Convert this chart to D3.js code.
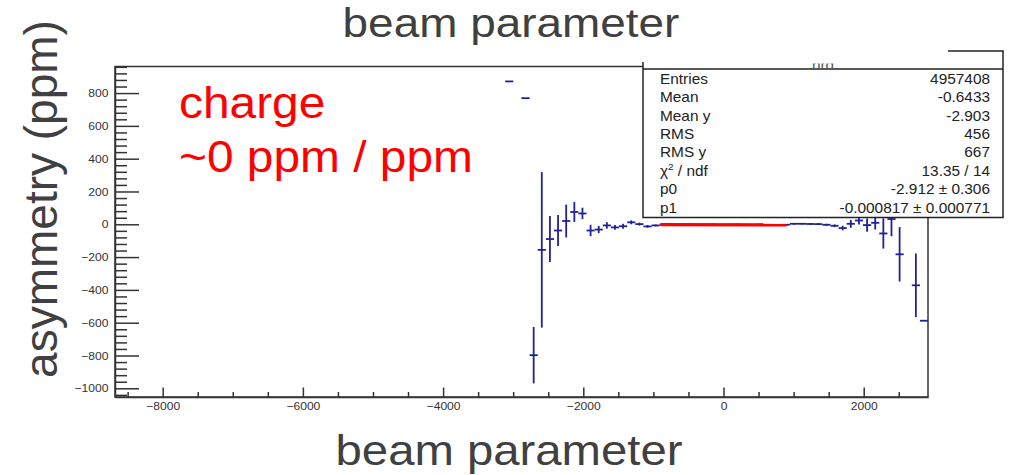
<!DOCTYPE html>
<html>
<head>
<meta charset="utf-8">
<script src="https://cdn.jsdelivr.net/npm/d3@7"></script>
<style>
  body { margin: 0; background: #fff; }
  svg { display: block; font-family: "Liberation Sans", Arial, sans-serif; }
</style>
</head>
<body>
<svg id="chart" width="1010" height="475"></svg>
<script>
// profile bins (bin centre, mean asymmetry, error)
const binX = [-3056, -2824, -2708, -2592, -2476, -2360, -2244, -2128, -2012, -1896, -1780, -1664,
  -1548, -1432, -1316, -1200, -1084, -968, -852, -736, -620, -504, -388, -272, -156, -40, 76, 192,
  308, 424, 540, 656, 772, 888, 1004, 1120, 1236, 1352, 1468, 1584, 1700, 1816, 1932, 2048, 2164,
  2280, 2396, 2512, 2744, 2860];
const binY = [871, 769, -798, -156, -90, -38, 20, 75, 66, -38, -32, -7,
  -19, -12, 12, 1, -13, -7, -2, -4, -3, -1, -5, -3, -2, -4, -3, -2,
  -3, -4, -2, -3, -5, -3, 3, 3, 2, 1, -3, -9, -23, 3, 23, -5, 9,
  -56, 32, -183, -372, -588];
const binErr = [0, 0, 172, 474, 140, 95, 100, 61, 35, 35, 22, 20,
  15, 15, 12, 9, 8, 6, 5, 5, 5, 5, 5, 5, 5, 5, 5, 5,
  5, 5, 5, 5, 5, 5, 5, 5, 5, 6, 6, 8, 14, 24, 25, 41, 41,
  92, 105, 166, 194, 0];
const binWidth = 116;

// linear fit
const fitRange = [-900, 900];
const p0 = -2.912, p1 = -0.000817;

const xMajor = [-8000, -6000, -4000, -2000, 0, 2000];
const xMinor = [-8500, -7500, -7000, -6500, -5500, -5000, -4500, -3500, -3000, -2500,
  -1500, -1000, -500, 500, 1000, 1500, 2500];
const yMajor = [-1000, -800, -600, -400, -200, 0, 200, 400, 600, 800];
const yMinor = [-1040, -960, -920, -880, -840, -760, -720, -680, -640, -560, -520, -480, -440,
  -360, -320, -280, -240, -160, -120, -80, -40, 40, 80, 120, 160, 240, 280, 320, 360,
  440, 480, 520, 560, 640, 680, 720, 760, 840, 880, 920, 960];

const statLabels = ["Entries", "Mean", "Mean y", "RMS", "RMS y", "χ2 / ndf", "p0", "p1"];
const statValues = ["4957408", "-0.6433", "-2.903", "456", "667", "13.35 / 14",
  "-2.912 ± 0.306", "-0.000817 ± 0.000771"];

const svg = d3.select("#chart");
const frame = { left: 115, right: 928, top: 66.5, bottom: 397 };
const sx = 1.1; // picture is a little wider than tall

const x = d3.scaleLinear().domain([-8680, 2917]).range([frame.left, frame.right]);
const y = d3.scaleLinear().domain([-1053, 962]).range([frame.bottom, frame.top]);

const axisColor = "#333";

// frame
svg.append("rect")
  .attr("x", frame.left).attr("y", frame.top)
  .attr("width", frame.right - frame.left).attr("height", frame.bottom - frame.top)
  .attr("fill", "none").attr("stroke", axisColor).attr("stroke-width", 1.5);

// x axis
const gx = svg.append("g").attr("transform", `translate(0,${frame.bottom})`)
  .call(d3.axisBottom(x).tickValues(xMajor).tickSizeInner(-9.5).tickSizeOuter(0).tickPadding(5)
    .tickFormat(d3.format("d")));
svg.append("g").attr("transform", `translate(0,${frame.bottom})`)
  .call(d3.axisBottom(x).tickValues(xMinor).tickSize(-5).tickFormat(""))
  .call(g => g.select(".domain").remove());

// y axis
const gy = svg.append("g").attr("transform", `translate(${frame.left},0)`)
  .call(d3.axisLeft(y).tickValues(yMajor).tickSizeInner(-24).tickSizeOuter(0).tickPadding(6)
    .tickFormat(d3.format("d")));
svg.append("g").attr("transform", `translate(${frame.left},0)`)
  .call(d3.axisLeft(y).tickValues(yMinor).tickSize(-12).tickFormat(""))
  .call(g => g.select(".domain").remove());

svg.selectAll(".tick line").attr("stroke", axisColor).attr("stroke-width", 1.5);
svg.selectAll(".domain").attr("stroke", axisColor).attr("stroke-width", 1.5);
gx.selectAll("text").attr("font-size", 11).attr("fill", axisColor)
  .attr("font-family", "Liberation Sans, Arial, sans-serif")
  .attr("transform", `scale(${sx},1)`);
gy.selectAll("text").attr("font-size", 11).attr("fill", axisColor)
  .attr("font-family", "Liberation Sans, Arial, sans-serif")
  .attr("transform", `scale(${sx},1)`);

// error-bar profile
const blue = "#20209a";
const pts = binX.map((c, i) => ({ c, v: binY[i], e: binErr[i] }));
const gp = svg.append("g").attr("stroke", blue).attr("stroke-width", 1.8).attr("fill", "none");
gp.selectAll("line.h").data(pts).join("line").attr("class", "h")
  .attr("x1", d => x(d.c - binWidth / 2)).attr("x2", d => x(d.c + binWidth / 2))
  .attr("y1", d => y(d.v)).attr("y2", d => y(d.v));
gp.selectAll("line.v").data(pts.filter(d => d.e > 0)).join("line").attr("class", "v")
  .attr("x1", d => x(d.c)).attr("x2", d => x(d.c))
  .attr("y1", d => y(d.v - d.e)).attr("y2", d => y(d.v + d.e));

// fit line
svg.append("line")
  .attr("x1", x(fitRange[0])).attr("x2", x(fitRange[1]))
  .attr("y1", y(p0 + p1 * fitRange[0])).attr("y2", y(p0 + p1 * fitRange[1]))
  .attr("stroke", "#ff0000").attr("stroke-width", 3.2);

// stats box
const box = { left: 643, right: 1003, top: 62, head: 69, bottom: 217.5 };
svg.append("rect")
  .attr("x", box.left).attr("y", box.top)
  .attr("width", box.right - box.left).attr("height", box.bottom - box.top)
  .attr("fill", "#fff").attr("stroke", "none");
svg.append("path")
  .attr("d", `M${box.left},${box.top} V${box.bottom} H${box.right} V51 H948
    M${box.left},${box.head} H${box.right}`)
  .attr("fill", "none").attr("stroke", "#222").attr("stroke-width", 1.5);
svg.append("clipPath").attr("id", "headclip")
  .append("rect").attr("x", box.left).attr("y", 63.5).attr("width", 360).attr("height", 4.5);
svg.append("g").attr("clip-path", "url(#headclip)")
  .append("text")
  .attr("transform", `translate(823,70) scale(${sx},1)`)
  .attr("text-anchor", "middle").attr("font-size", 14).attr("fill", "#555").text("hrq");

const rowY = d3.scaleLinear().domain([0, 7]).range([84, 212.5]);
statLabels.forEach((lab, i) => {
  const t = svg.append("text")
    .attr("transform", `translate(660,${rowY(i)}) scale(${sx},1)`)
    .attr("font-size", 14).attr("fill", "#222");
  if (lab.startsWith("χ2")) {
    t.append("tspan").text("χ");
    t.append("tspan").attr("font-size", 9).attr("dy", -6).text("2");
    t.append("tspan").attr("dy", 6).text(" / ndf");
  } else {
    t.text(lab);
  }
  svg.append("text")
    .attr("transform", `translate(990,${rowY(i)}) scale(${sx},1)`)
    .attr("text-anchor", "end").attr("font-size", 14).attr("fill", "#222")
    .text(statValues[i]);
});

// titles
const titleColor = "#404040";
svg.append("text")
  .attr("transform", `translate(511,37) scale(1.12,1)`)
  .attr("text-anchor", "middle").attr("font-size", 41).attr("fill", titleColor)
  .text("beam parameter");
svg.append("text")
  .attr("transform", `translate(509,465) scale(${sx},1)`)
  .attr("text-anchor", "middle").attr("font-size", 43).attr("fill", titleColor)
  .text("beam parameter");
svg.append("text")
  .attr("transform", `translate(57,199) rotate(-90)`)
  .attr("text-anchor", "middle").attr("font-size", 46).attr("fill", titleColor)
  .text("asymmetry (ppm)");

// annotation
svg.append("text")
  .attr("transform", `translate(179,118) scale(${sx},1)`)
  .attr("font-size", 43.5).attr("fill", "#ff0000").text("charge");
svg.append("text")
  .attr("transform", `translate(179,172) scale(${sx},1)`)
  .attr("font-size", 43.5).attr("fill", "#ff0000").text("~0 ppm / ppm");
</script>
</body>
</html>
